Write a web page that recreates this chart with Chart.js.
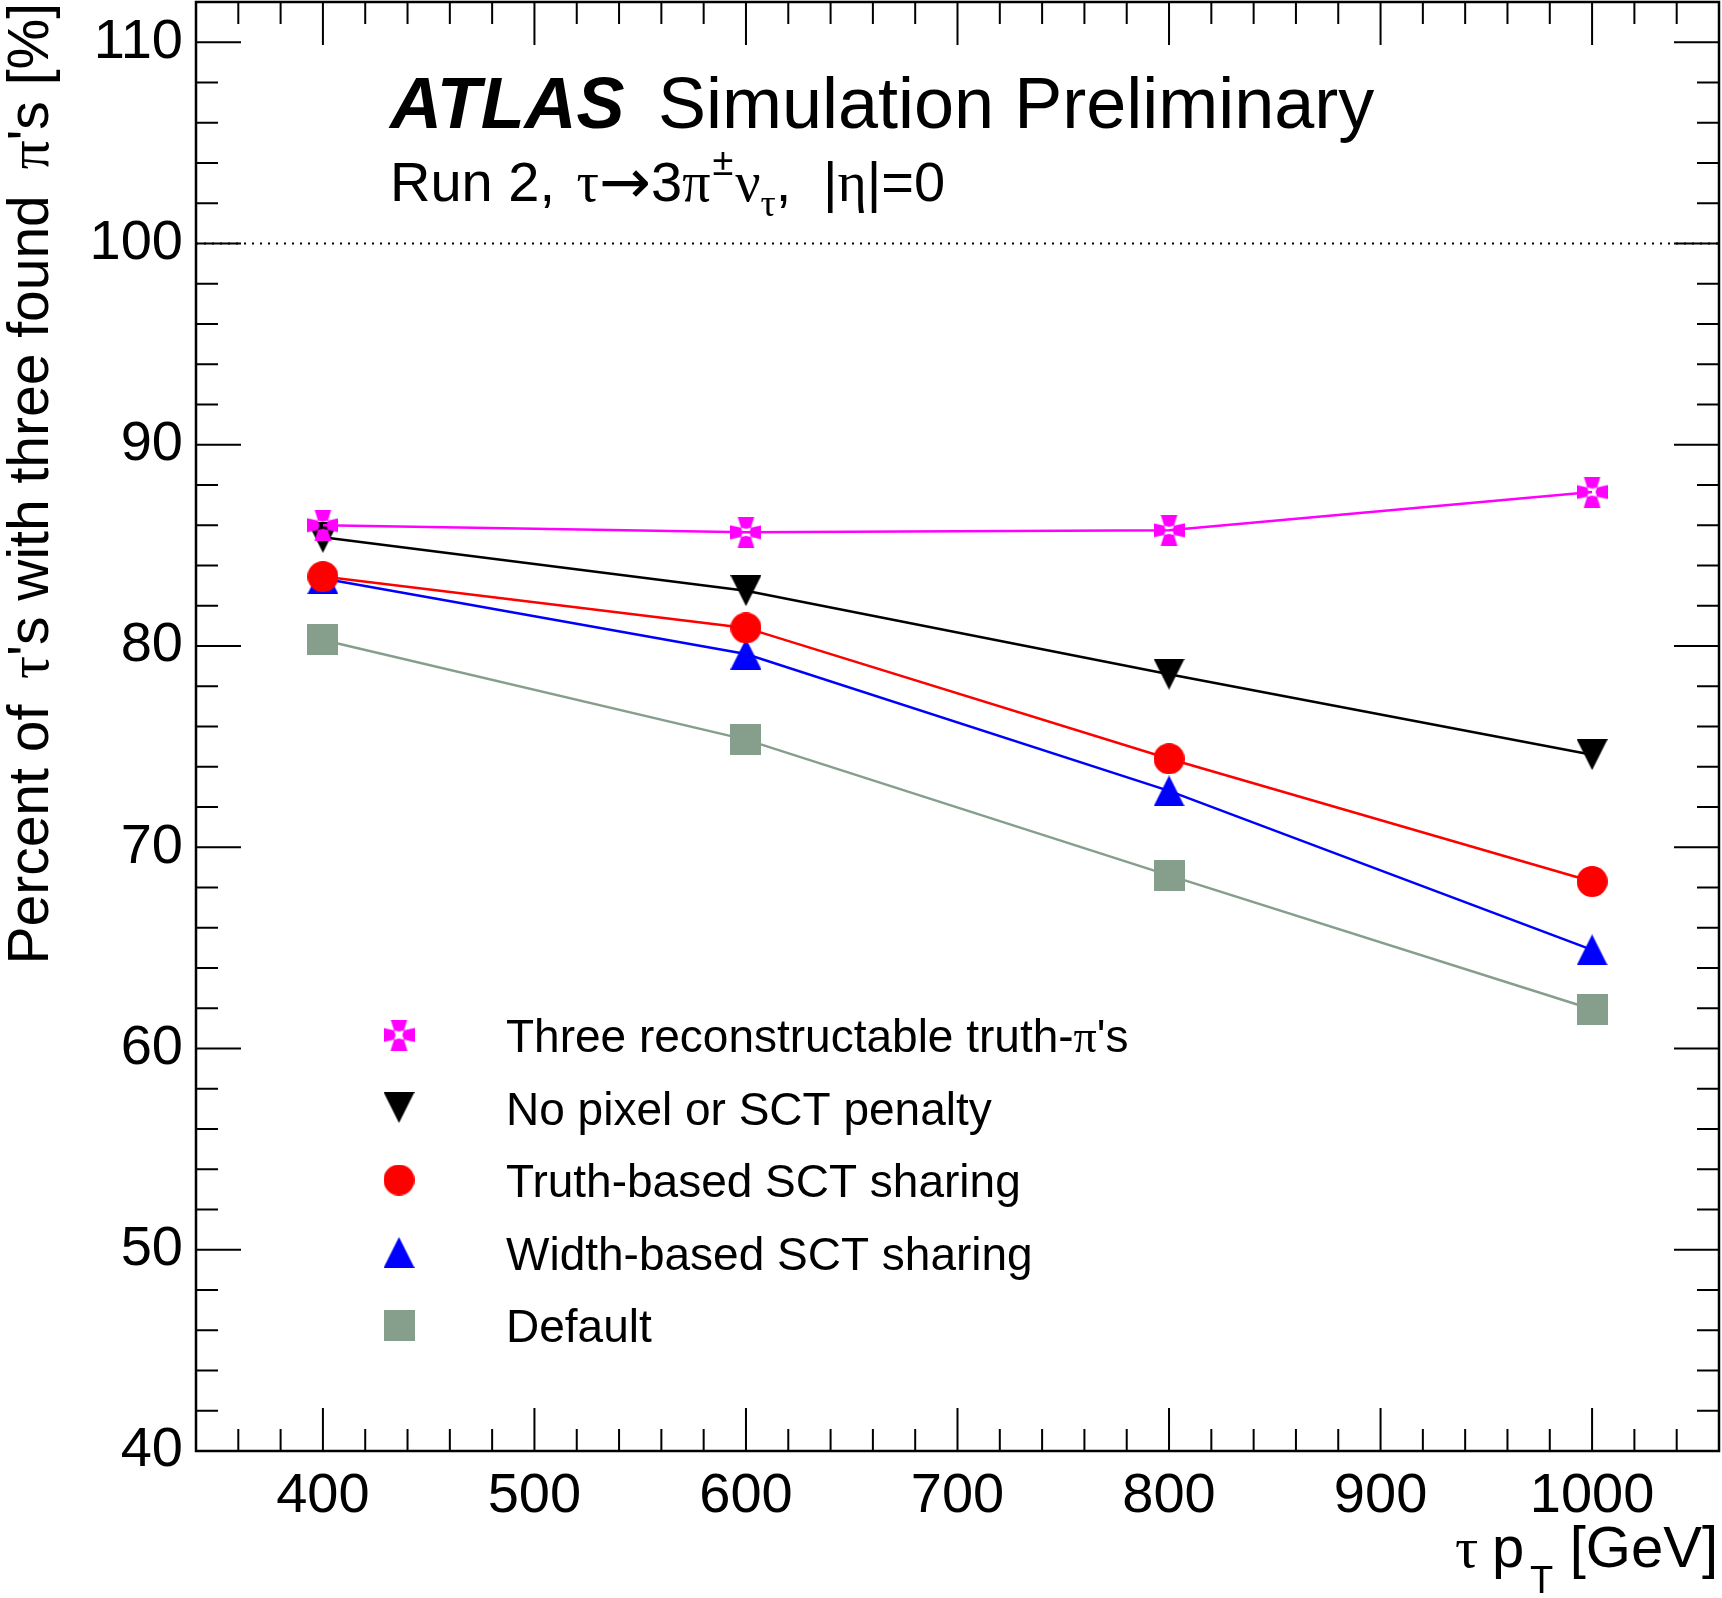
<!DOCTYPE html>
<html>
<head>
<meta charset="utf-8">
<script src="https://cdn.jsdelivr.net/npm/chart.js@4.4.0/dist/chart.umd.min.js"></script>
<style>
  html, body { margin: 0; padding: 0; background: #fff; }
</style>
</head>
<body>
<canvas id="grafico" width="1722" height="1598"></canvas>
<script>
// Dados
const ptTau = [400, 600, 800, 1000];
const tresTruth = [86.0, 85.65, 85.75, 87.65];
const semPenalidade = [85.4, 82.75, 78.6, 74.6];
const truthSCT = [83.45, 80.9, 74.4, 68.3];
const widthSCT = [83.35, 79.6, 72.8, 64.9];
const padrao = [80.3, 75.35, 68.6, 61.95];

const ticksX = [400, 500, 600, 700, 800, 900, 1000];
const ticksY = [40, 50, 60, 70, 80, 90, 100, 110];
const linhaReferencia = 100;

const SANS = '"Liberation Sans", Arial, sans-serif';
const SERIF = '"Liberation Serif", "Times New Roman", serif';
const SETA = '"DejaVu Sans", sans-serif';

// Desenha os marcadores no estilo ROOT num canvas pequeno
function criarMarcador(tipo, cor, tam) {
  const c = document.createElement('canvas');
  c.width = tam; c.height = tam;
  const g = c.getContext('2d');
  const h = tam / 2;
  g.fillStyle = cor;
  g.beginPath();
  if (tipo === 'circulo') {
    g.arc(h, h, h, 0, Math.PI * 2);
  } else if (tipo === 'quadrado') {
    g.rect(0, 0, tam, tam);
  } else if (tipo === 'trianguloCima') {
    g.moveTo(h, 0); g.lineTo(tam, tam); g.lineTo(0, tam);
  } else if (tipo === 'trianguloBaixo') {
    g.moveTo(0, 0); g.lineTo(tam, 0); g.lineTo(h, tam);
  } else if (tipo === 'estrela') {
    const fora = tam * 0.27, dentro = tam * 0.11;
    // braços verticais
    g.moveTo(h - dentro, h); g.lineTo(h - fora, 0); g.lineTo(h + fora, 0); g.lineTo(h + dentro, h);
    g.lineTo(h + fora, tam); g.lineTo(h - fora, tam); g.closePath();
    // braços horizontais
    g.moveTo(h, h - dentro); g.lineTo(0, h - fora * 0.85); g.lineTo(0, h + fora * 0.85); g.lineTo(h, h + dentro);
    g.lineTo(tam, h + fora * 0.85); g.lineTo(tam, h - fora * 0.85); g.closePath();
  }
  g.fill();
  return c;
}

const series = [
  { label: ['Three reconstructable truth-', 'π', "'s"], dados: tresTruth, cor: '#ff00ff', marcador: 'estrela' },
  { label: ['No pixel or SCT penalty'], dados: semPenalidade, cor: '#000000', marcador: 'trianguloBaixo' },
  { label: ['Truth-based SCT sharing'], dados: truthSCT, cor: '#ff0000', marcador: 'circulo' },
  { label: ['Width-based SCT sharing'], dados: widthSCT, cor: '#0000ff', marcador: 'trianguloCima' },
  { label: ['Default'], dados: padrao, cor: '#869e8c', marcador: 'quadrado' }
];

// Escreve uma sequência de pedaços de texto com fontes diferentes
function escreverPedacos(ctx, pedacos, x, y) {
  let cx = x;
  pedacos.forEach(p => {
    ctx.font = p.font;
    cx += p.dx || 0;
    ctx.fillText(p.t, cx, y + (p.dy || 0));
    cx += ctx.measureText(p.t).width;
  });
  return cx;
}

function larguraPedacos(ctx, pedacos) {
  let w = 0;
  pedacos.forEach(p => { ctx.font = p.font; w += (p.dx || 0) + ctx.measureText(p.t).width; });
  return w;
}

// sem margens extras das escalas: a área do gráfico fica fixa
function semMargens(s) {
  s.paddingLeft = 0; s.paddingRight = 0; s.paddingTop = 0; s.paddingBottom = 0;
}

const pluginMoldura = {
  id: 'moldura',
  beforeDatasetsDraw(chart) {
    const { ctx, chartArea: a, scales: { x, y } } = chart;
    ctx.save();
    // linha pontilhada em 100%
    const y100 = y.getPixelForValue(linhaReferencia);
    ctx.strokeStyle = '#000';
    ctx.lineWidth = 2;
    ctx.setLineDash([2, 6]);
    ctx.beginPath();
    ctx.moveTo(a.left, y100); ctx.lineTo(a.right, y100);
    ctx.stroke();
    ctx.setLineDash([]);

    // ticks para dentro nos quatro lados
    ctx.lineWidth = 2;
    ctx.beginPath();
    for (let v = 340; v <= 1060; v += 20) {
      const px = x.getPixelForValue(v);
      const len = v % 100 === 0 ? 43 : 22;
      ctx.moveTo(px, a.bottom); ctx.lineTo(px, a.bottom - len);
      ctx.moveTo(px, a.top); ctx.lineTo(px, a.top + len);
    }
    for (let v = 40; v <= 112; v += 2) {
      const py = y.getPixelForValue(v);
      const len = v % 10 === 0 ? 45 : 22;
      ctx.moveTo(a.left, py); ctx.lineTo(a.left + len, py);
      ctx.moveTo(a.right, py); ctx.lineTo(a.right - len, py);
    }
    ctx.stroke();

    // moldura
    ctx.lineWidth = 2.5;
    ctx.strokeRect(a.left, a.top, a.right - a.left, a.bottom - a.top);
    ctx.restore();
  },
  afterDraw(chart) {
    const { ctx } = chart;
    ctx.save();
    ctx.fillStyle = '#000';
    ctx.textBaseline = 'alphabetic';
    ctx.textAlign = 'left';

    // cabeçalho ATLAS
    ctx.font = 'italic bold 72px ' + SANS;
    ctx.fillText('ATLAS', 390, 128);
    ctx.font = '72px ' + SANS;
    ctx.fillText('Simulation Preliminary', 658, 128);

    const f = 56;
    escreverPedacos(ctx, [
      { t: 'Run 2, ', font: f + 'px ' + SANS },
      { t: 'τ', font: f + 'px ' + SERIF, dx: 6 },
      { t: '→', font: '62px ' + SETA, dy: 2 },
      { t: '3', font: f + 'px ' + SANS },
      { t: 'π', font: f + 'px ' + SERIF },
      { t: '±', font: '38px ' + SANS, dx: 2, dy: -26 },
      { t: 'ν', font: f + 'px ' + SERIF, dx: 2 },
      { t: 'τ', font: '38px ' + SERIF, dy: 15 },
      { t: ', ', font: f + 'px ' + SANS },
      { t: '|', font: f + 'px ' + SANS, dx: 16 },
      { t: 'η', font: f + 'px ' + SERIF },
      { t: '|=0', font: f + 'px ' + SANS }
    ], 390, 201);

    // legenda
    const legX = 399, legTexto = 506, legY0 = 1035, legPasso = 72.5, fl = 46;
    series.forEach((s, i) => {
      const yy = legY0 + i * legPasso;
      const img = chart.data.datasets[i].pointStyle;
      ctx.drawImage(img, legX - img.width / 2, yy - img.height / 2);
      const pedacos = s.label.map(t => ({ t: t, font: fl + 'px ' + (t === 'π' ? SERIF : SANS) }));
      escreverPedacos(ctx, pedacos, legTexto, yy + 17);
    });

    // título do eixo x
    ctx.font = '58px ' + SERIF;
    ctx.fillText('τ', 1455, 1567);
    ctx.font = '58px ' + SANS;
    ctx.fillText('p', 1492, 1567);
    ctx.font = '38px ' + SANS;
    ctx.fillText('T', 1530, 1593);
    ctx.font = '58px ' + SANS;
    ctx.textAlign = 'right';
    ctx.fillText('[GeV]', 1718, 1567);
    ctx.textAlign = 'left';

    // título do eixo y (rotacionado)
    const fy = 57;
    const pedacosY = [
      { t: 'Percent of ', font: fy + 'px ' + SANS },
      { t: 'τ', font: fy + 'px ' + SERIF, dx: 10 },
      { t: "'s with three found ", font: fy + 'px ' + SANS },
      { t: 'π', font: fy + 'px ' + SERIF, dx: 10 },
      { t: "'s [%]", font: fy + 'px ' + SANS }
    ];
    ctx.translate(48, 0);
    ctx.rotate(-Math.PI / 2);
    const total = larguraPedacos(ctx, pedacosY);
    escreverPedacos(ctx, pedacosY, -(3 + total), 0);
    ctx.restore();
  }
};

const canvas = document.getElementById('grafico');
new Chart(canvas.getContext('2d'), {
  type: 'line',
  data: {
    datasets: series.map(s => ({
      label: s.label.join(''),
      data: ptTau.map((x, i) => ({ x: x, y: s.dados[i] })),
      borderColor: s.cor,
      backgroundColor: s.cor,
      borderWidth: 2.5,
      pointStyle: criarMarcador(s.marcador, s.cor, 31),
      pointRadius: 15,
      pointHoverRadius: 15,
      fill: false,
      tension: 0
    }))
  },
  options: {
    responsive: false,
    animation: false,
    devicePixelRatio: 1,
    layout: { autoPadding: false, padding: { top: 2, right: 3, left: 0, bottom: 0 } },
    plugins: {
      legend: { display: false },
      tooltip: { enabled: false }
    },
    scales: {
      x: {
        type: 'linear',
        min: 340,
        max: 1060,
        afterBuildTicks: s => { s.ticks = ticksX.map(v => ({ value: v })); },
        afterFit: s => { s.height = 147; semMargens(s); },
        grid: { display: false, drawTicks: false },
        border: { display: false },
        ticks: {
          color: '#000',
          font: { family: SANS, size: 56 },
          padding: 12,
          maxRotation: 0,
          autoSkip: false,
          callback: v => String(v)
        }
      },
      y: {
        type: 'linear',
        min: 40,
        max: 112,
        afterBuildTicks: s => { s.ticks = ticksY.map(v => ({ value: v })); },
        afterFit: s => { s.width = 196; semMargens(s); },
        grid: { display: false, drawTicks: false },
        border: { display: false },
        ticks: {
          color: '#000',
          font: { family: SANS, size: 56 },
          padding: 13,
          autoSkip: false,
          callback: v => String(v)
        }
      }
    }
  },
  plugins: [pluginMoldura]
});
</script>
</body>
</html>
